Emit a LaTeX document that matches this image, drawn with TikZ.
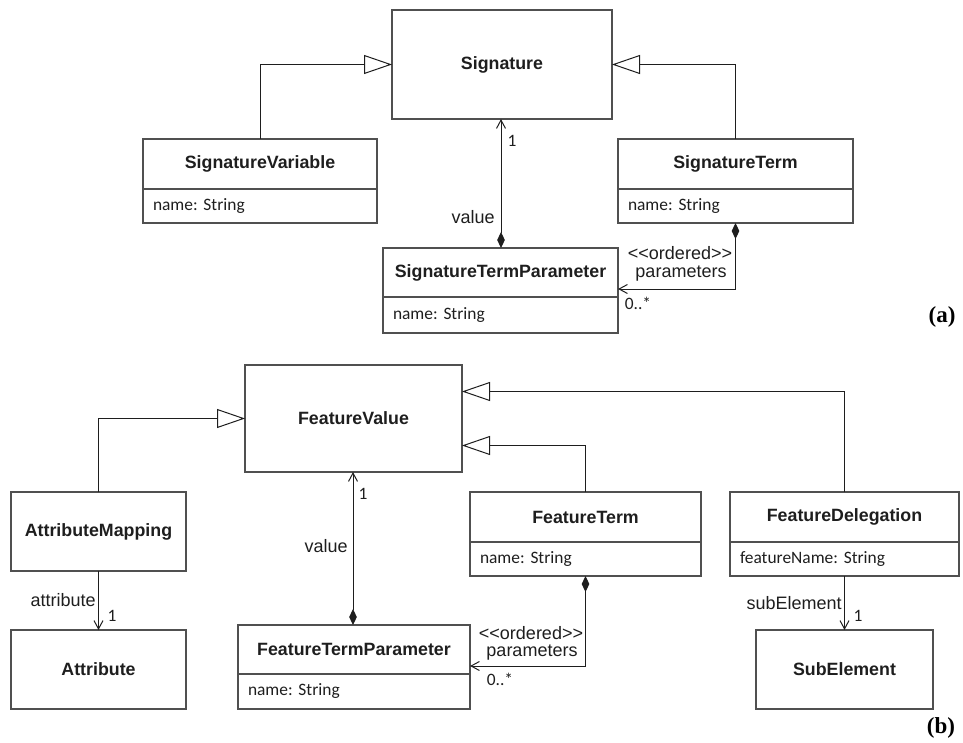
\documentclass[tikz,border=0pt]{standalone}
\usepackage{fontspec}
\usetikzlibrary{arrows.meta}
\newfontfamily\clsfont{Liberation Sans}
\newfontfamily\attrfont{Carlito}
\newfontfamily\tagfont{Liberation Serif}
\definecolor{boxgray}{HTML}{505050}
\definecolor{ink}{HTML}{1E1E1E}
\frenchspacing
\tikzset{
  cls/.style n args={2}{draw=boxgray, line width=0.7pt, anchor=north west, inner sep=0pt, outer sep=0pt,
    minimum width=#1, minimum height=#2, text=ink,
    font=\clsfont\bfseries\fontsize{8.9}{10}\selectfont},
  attr/.style n args={2}{draw=boxgray, line width=0.7pt, anchor=north west, inner xsep=5pt, inner ysep=0pt, outer sep=0pt,
    text width=#1, minimum height=#2, align=left, text=ink,
    font=\attrfont\fontsize{8.7}{10}\selectfont},
  lbl/.style={inner sep=0pt, text=ink, font=\clsfont\fontsize{9}{10.5}\selectfont, align=center},
  mult/.style={inner sep=0pt, text=ink, font=\attrfont\fontsize{8.7}{10}\selectfont},
  tag/.style={inner sep=0pt, text=black, font=\tagfont\bfseries\fontsize{11.5}{13}\selectfont},
  link/.style={draw=ink, line width=0.5pt},
  gen/.style={link, -{Triangle[open, length=14pt, width=9.5pt, fill=white]}},
  nav/.style={link, -{Straight Barb[length=4.2pt, width=4.5pt]}},
  comp/.style={link, {Diamond[length=8pt, width=3.8pt]}-{Straight Barb[length=4.2pt, width=4.5pt]}},
}
\begin{document}
\begin{tikzpicture}[x=0.5pt, y=-0.5pt]
\useasboundingbox (0,0) rectangle (963,743);

% ---------- (a) signatures ----------
\node[cls={110pt}{54.5pt}] (sig) at (392,10) {Signature};
\node[cls={117pt}{25pt}] (sv) at (143,139) {SignatureVariable};
\node[attr={107pt}{17pt}] (sva) at (sv.south west) {name: String};
\node[cls={117.5pt}{25pt}] (st) at (618,139) {SignatureTerm};
\node[attr={107.5pt}{17pt}] (sta) at (st.south west) {name: String};
\node[cls={117.5pt}{24.5pt}] (stp) at (383,248) {SignatureTermParameter};
\node[attr={107.5pt}{18pt}] (stpa) at (stp.south west) {name: String};

\draw[gen] (sv.north) |- (sig.west);
\draw[gen] (st.north) |- (sig.east);
\draw[comp] (stp.north -| 501,0) -- (sig.south -| 501,0);
\draw[comp] (sta.south) |- ([yshift=4pt]stp.south east);

\node[mult] (sig1) at (512,141) {1};
\node[lbl, anchor=east] (sigval) at (495,217) {value};
\node[lbl] (stord) at (680,253) {<<ordered>>};
\node[lbl] (stpar) at (681,274) {parameters};
\node[mult] (stmany) at (638,303) {0..*};
\node[tag] (taga) at (942,317) {(a)};

% ---------- (b) feature values ----------
\node[cls={108.5pt}{53.5pt}] (fv) at (245,365) {FeatureValue};
\node[cls={87.5pt}{39.5pt}] (am) at (11,492) {AttributeMapping};
\node[cls={87.5pt}{39.5pt}] (at) at (11,630) {Attribute};
\node[cls={116pt}{24.5pt}] (ftp) at (238,625) {FeatureTermParameter};
\node[attr={106pt}{17.5pt}] (ftpa) at (ftp.south west) {name: String};
\node[cls={115.5pt}{25pt}] (ft) at (470,492) {FeatureTerm};
\node[attr={105.5pt}{17pt}] (fta) at (ft.south west) {name: String};
\node[cls={114.5pt}{25pt}] (fd) at (730,492) {FeatureDelegation};
\node[attr={104.5pt}{17pt}] (fda) at (fd.south west) {featureName: String};
\node[cls={88.5pt}{39.5pt}] (se) at (756,630) {SubElement};

\draw[gen] (am.north) |- (fv.west);
\draw[gen] (ft.north) |- ([yshift=-13.5pt]fv.east);
\draw[gen] (fd.north) |- ([yshift=13.5pt]fv.east);
\draw[comp] (ftp.north -| 353,0) -- (fv.south -| 353,0);
\draw[comp] (fta.south) |- ([yshift=4pt]ftp.south east);
\draw[nav] (am.south) -- (at.north);
\draw[nav] (fda.south) -- (se.north);

\node[mult] (fv1) at (363,494) {1};
\node[lbl, anchor=east] (fvval) at (348,546) {value};
\node[lbl, anchor=east] (amattr) at (96,600) {attribute};
\node[mult] (am1) at (112,616) {1};
\node[lbl] (ftord) at (531,633) {<<ordered>>};
\node[lbl] (ftpar) at (532,653) {parameters};
\node[mult] (ftmany) at (500,679) {0..*};
\node[lbl, anchor=east] (fdsub) at (842,603) {subElement};
\node[mult] (fd1) at (858,616) {1};
\node[tag] (tagb) at (941,728) {(b)};
\end{tikzpicture}
\end{document}
